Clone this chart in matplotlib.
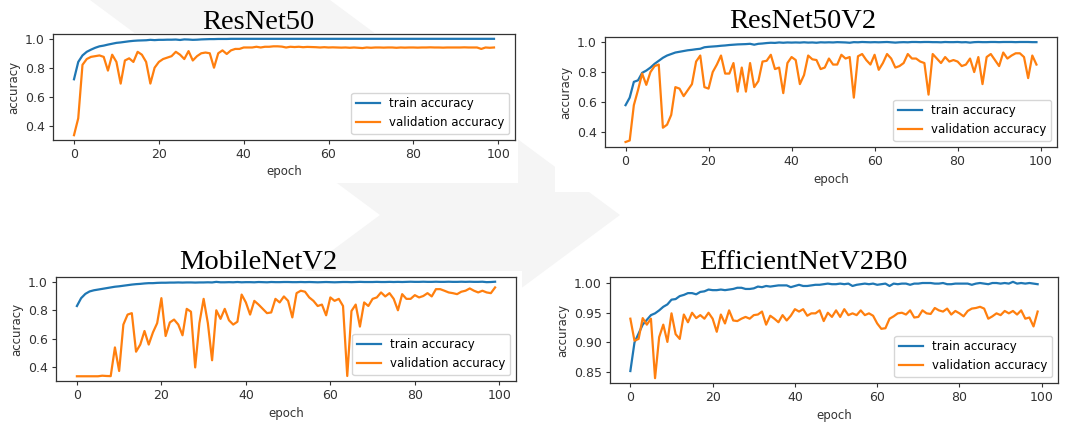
import matplotlib
matplotlib.use('Agg')
import matplotlib.pyplot as plt
from matplotlib.patches import Polygon, Rectangle

W, H = 1086, 430

epochs = list(range(100))

# ResNet50
resnet50_train = [
    0.72, 0.84, 0.885, 0.91, 0.925, 0.938, 0.948, 0.953, 0.96, 0.966,
    0.972, 0.975, 0.979, 0.983, 0.986, 0.988, 0.989, 0.99, 0.993, 0.991,
    0.993, 0.993, 0.994, 0.994, 0.995, 0.992, 0.996, 0.995, 0.993, 0.994,
    0.996, 0.997, 0.998, 0.998, 0.999, 0.999, 0.999, 1.0, 1.0, 1.0,
    1.0, 1.0, 1.0, 1.0, 1.0, 1.0, 1.0, 1.0, 1.0, 1.0,
    1.0, 1.0, 1.0, 1.0, 1.0, 1.0, 1.0, 1.0, 1.0, 1.0,
    1.0, 1.0, 1.0, 1.0, 1.0, 1.0, 1.0, 1.0, 1.0, 1.0,
    1.0, 1.0, 1.0, 1.0, 1.0, 1.0, 1.0, 1.0, 1.0, 1.0,
    1.0, 1.0, 1.0, 1.0, 1.0, 1.0, 1.0, 1.0, 1.0, 1.0,
    1.0, 1.0, 1.0, 1.0, 1.0, 1.0, 1.0, 1.0, 1.0, 1.0,
]
resnet50_val = [
    0.333, 0.45, 0.82, 0.86, 0.875, 0.88, 0.885, 0.875, 0.78, 0.89,
    0.84, 0.69, 0.85, 0.865, 0.84, 0.91, 0.89, 0.84, 0.69, 0.80,
    0.84, 0.86, 0.87, 0.88, 0.91, 0.89, 0.86, 0.915, 0.85, 0.88,
    0.90, 0.905, 0.90, 0.80, 0.90, 0.92, 0.895, 0.92, 0.93, 0.93,
    0.94, 0.94, 0.94, 0.945, 0.94, 0.945, 0.945, 0.948, 0.948, 0.946,
    0.94, 0.945, 0.943, 0.945, 0.942, 0.944, 0.943, 0.942, 0.94, 0.942,
    0.94, 0.941, 0.94, 0.939, 0.94, 0.938, 0.94, 0.938, 0.936, 0.94,
    0.938, 0.94, 0.94, 0.939, 0.94, 0.94, 0.938, 0.94, 0.939, 0.94,
    0.94, 0.939, 0.94, 0.94, 0.941, 0.94, 0.94, 0.939, 0.94, 0.94,
    0.94, 0.94, 0.941, 0.94, 0.94, 0.94, 0.93, 0.94, 0.938, 0.94,
]

# ResNet50V2
resnet50v2_train = [
    0.58, 0.63, 0.735, 0.745, 0.795, 0.81, 0.83, 0.855, 0.875, 0.895,
    0.91, 0.92, 0.93, 0.935, 0.94, 0.945, 0.948, 0.952, 0.955, 0.965,
    0.968, 0.97, 0.972, 0.975, 0.977, 0.98, 0.982, 0.984, 0.985, 0.986,
    0.988, 0.982, 0.988, 0.99, 0.993, 0.995, 0.994, 0.997, 0.995, 0.997,
    0.996, 0.997, 0.996, 0.998, 0.996, 0.997, 0.995, 0.998, 0.997, 0.998,
    0.997, 0.999, 0.998, 0.997, 0.995, 0.999, 0.998, 1.0, 0.999, 0.998,
    0.999, 0.998, 0.999, 1.0, 0.998, 0.996, 0.998, 0.999, 0.998, 1.0,
    1.0, 0.999, 1.0, 1.0, 0.999, 0.999, 0.998, 1.0, 0.999, 0.999,
    1.0, 0.998, 0.999, 0.996, 0.999, 1.0, 0.999, 0.999, 1.0, 1.0,
    0.999, 1.0, 1.0, 1.0, 0.999, 1.0, 1.0, 1.0, 0.999, 0.999,
]
resnet50v2_val = [
    0.335, 0.345, 0.58, 0.68, 0.79, 0.715, 0.80, 0.84, 0.85, 0.43,
    0.45, 0.515, 0.70, 0.69, 0.64, 0.68, 0.72, 0.87, 0.91, 0.70,
    0.69, 0.80, 0.85, 0.91, 0.79, 0.79, 0.86, 0.67, 0.83, 0.67,
    0.86, 0.70, 0.74, 0.87, 0.875, 0.915, 0.82, 0.83, 0.66, 0.86,
    0.90, 0.88, 0.72, 0.78, 0.91, 0.885, 0.88, 0.82, 0.83, 0.89,
    0.85, 0.85, 0.915, 0.89, 0.90, 0.63, 0.905, 0.92, 0.88, 0.85,
    0.915, 0.815, 0.86, 0.92, 0.89, 0.83, 0.84, 0.86, 0.92, 0.89,
    0.89, 0.87, 0.86, 0.65, 0.92, 0.89, 0.86, 0.90, 0.87, 0.88,
    0.87, 0.84, 0.85, 0.89, 0.80, 0.90, 0.72, 0.90, 0.92, 0.88,
    0.84, 0.93, 0.89, 0.91, 0.925, 0.925, 0.90, 0.76, 0.91, 0.85,
]

# MobileNetV2
mobilenetv2_train = [
    0.83, 0.885, 0.915, 0.932, 0.94, 0.945, 0.95, 0.955, 0.96, 0.965,
    0.968, 0.972, 0.976, 0.98, 0.983, 0.985, 0.988, 0.99, 0.99, 0.992,
    0.993, 0.993, 0.994, 0.994, 0.995, 0.994, 0.995, 0.995, 0.994, 0.995,
    0.995, 0.996, 0.995, 0.999, 0.996, 0.996, 0.997, 0.996, 0.998, 0.996,
    0.997, 0.997, 0.996, 0.998, 0.997, 0.996, 0.998, 0.997, 0.997, 0.998,
    0.998, 0.997, 0.997, 0.998, 0.997, 0.998, 0.997, 0.996, 0.997, 0.998,
    0.997, 0.996, 0.997, 0.998, 0.998, 0.997, 0.998, 0.999, 0.998, 0.998,
    0.998, 0.999, 0.998, 0.998, 0.999, 0.998, 0.999, 0.998, 0.999, 1.0,
    0.999, 0.999, 1.0, 0.999, 0.999, 1.0, 0.999, 0.999, 1.0, 0.999,
    0.999, 1.0, 0.999, 1.0, 0.999, 0.999, 1.0, 0.997, 0.998, 1.0,
]
mobilenetv2_val = [
    0.338, 0.338, 0.338, 0.338, 0.338, 0.338, 0.342, 0.34, 0.339, 0.54,
    0.375, 0.70, 0.77, 0.78, 0.51, 0.56, 0.655, 0.56, 0.645, 0.71,
    0.885, 0.62, 0.715, 0.735, 0.70, 0.625, 0.81, 0.79, 0.40, 0.71,
    0.88, 0.71, 0.45, 0.80, 0.74, 0.81, 0.73, 0.70, 0.72, 0.91,
    0.855, 0.77, 0.866, 0.84, 0.81, 0.78, 0.785, 0.88, 0.855, 0.897,
    0.866, 0.75, 0.92, 0.937, 0.93, 0.89, 0.866, 0.83, 0.84, 0.765,
    0.89, 0.866, 0.88, 0.83, 0.34, 0.795, 0.84, 0.686, 0.855, 0.83,
    0.88, 0.89, 0.925, 0.897, 0.92, 0.88, 0.80, 0.913, 0.88, 0.88,
    0.906, 0.89, 0.90, 0.92, 0.897, 0.948, 0.948, 0.937, 0.925, 0.92,
    0.913, 0.93, 0.937, 0.953, 0.937, 0.925, 0.937, 0.925, 0.92, 0.96,
]

# EfficientNetV2B0
efficientnet_train = [
    0.852, 0.90, 0.915, 0.93, 0.938, 0.946, 0.949, 0.954, 0.96, 0.964,
    0.972, 0.973, 0.978, 0.98, 0.983, 0.983, 0.981, 0.985, 0.986, 0.989,
    0.988, 0.988, 0.989, 0.988, 0.989, 0.99, 0.992, 0.992, 0.99, 0.99,
    0.991, 0.994, 0.993, 0.995, 0.994, 0.995, 0.996, 0.996, 0.996, 0.993,
    0.995, 0.997, 0.995, 0.995, 0.996, 0.997, 0.997, 0.998, 0.999, 0.998,
    0.998, 0.999, 0.998, 0.999, 0.995, 0.997, 0.998, 0.999, 0.998, 0.999,
    0.997, 0.998, 0.999, 0.995, 0.999, 0.998, 0.999, 0.999, 0.997, 0.999,
    0.999, 1.0, 1.0, 1.0, 0.999, 0.999, 1.0, 0.998, 0.998, 0.999,
    0.999, 0.999, 0.999, 0.997, 0.999, 1.0, 0.999, 0.998, 1.0, 1.0,
    0.999, 1.0, 0.999, 1.002, 0.999, 1.0, 0.999, 1.0, 0.999, 0.998,
]
efficientnet_val = [
    0.94, 0.903, 0.906, 0.941, 0.93, 0.94, 0.84, 0.909, 0.93, 0.901,
    0.949, 0.914, 0.906, 0.947, 0.934, 0.95, 0.941, 0.946, 0.94, 0.95,
    0.94, 0.918, 0.947, 0.932, 0.954, 0.937, 0.936, 0.94, 0.943, 0.94,
    0.946, 0.947, 0.952, 0.93, 0.945, 0.94, 0.934, 0.946, 0.937, 0.945,
    0.956, 0.952, 0.956, 0.945, 0.949, 0.949, 0.954, 0.936, 0.95, 0.943,
    0.954, 0.943, 0.956, 0.946, 0.949, 0.946, 0.954, 0.946, 0.949, 0.945,
    0.932, 0.923, 0.924, 0.94, 0.944, 0.949, 0.95, 0.947, 0.954, 0.942,
    0.943, 0.954, 0.949, 0.948, 0.958, 0.954, 0.952, 0.957, 0.947, 0.953,
    0.949, 0.944, 0.953, 0.957, 0.958, 0.96, 0.957, 0.94, 0.944, 0.949,
    0.946, 0.953, 0.949, 0.953, 0.947, 0.954, 0.94, 0.942, 0.927, 0.952,
]

titles = ['ResNet50', 'ResNet50V2', 'MobileNetV2', 'EfficientNetV2B0']
train_series = [resnet50_train, resnet50v2_train, mobilenetv2_train, efficientnet_train]
val_series = [resnet50_val, resnet50v2_val, mobilenetv2_val, efficientnet_val]
y_ticks = [[0.4, 0.6, 0.8, 1.0], [0.4, 0.6, 0.8, 1.0], [0.4, 0.6, 0.8, 1.0],
           [0.85, 0.90, 0.95, 1.00]]
y_fmt = ['{:.1f}', '{:.1f}', '{:.1f}', '{:.2f}']
x_ticks = [0, 20, 40, 60, 80, 100]

# pixel layout (left, top, right, bottom), y measured from the top
axes_px = [(53, 34, 515, 140), (605, 37, 1057, 147), (56, 277, 516, 381), (610, 277, 1058, 383)]
title_px = [(258, 29), (803, 28), (258, 269), (803, 269)]
white_px = [(0, 33, 518, 183), (555, 33, 1086, 192), (0, 271, 522, 430), (547, 273, 1086, 430)]


def fx(x):
    return x / W


def fy(y):
    return 1 - y / H


fig = plt.figure(figsize=(W / 100, H / 100), dpi=100)

# faint page watermark behind the pasted screenshots
chevron = [(90, 0), (330, 0), (620, 215), (330, 430), (90, 430), (380, 215)]
fig.add_artist(Polygon([(fx(x), fy(y)) for x, y in chevron], closed=True,
                       transform=fig.transFigure, facecolor='#f5f5f5',
                       edgecolor='none', zorder=-3))
for l, t, r, b in white_px:
    fig.add_artist(Rectangle((fx(l), fy(b)), fx(r) - fx(l), fy(t) - fy(b),
                             transform=fig.transFigure, facecolor='white',
                             edgecolor='none', zorder=-2))

for i in range(4):
    l, t, r, b = axes_px[i]
    ax = fig.add_axes([fx(l), fy(b), fx(r) - fx(l), fy(t) - fy(b)])
    ax.set_zorder(2)
    ax.plot(epochs, train_series[i], color='#1f77b4', lw=1.6, label='train accuracy')
    ax.plot(epochs, val_series[i], color='#ff7f0e', lw=1.6, label='validation accuracy')
    ax.set_xticks(x_ticks)
    ax.set_yticks(y_ticks[i])
    ax.set_yticklabels([y_fmt[i].format(v) for v in y_ticks[i]])
    ax.tick_params(labelsize=9, length=3, width=0.8, pad=3, colors='#333333')
    for s in ax.spines.values():
        s.set_linewidth(0.9)
        s.set_color('#333333')
    ax.set_xlabel('epoch', fontsize=8.5, labelpad=3, color='#333333')
    ax.set_ylabel('accuracy', fontsize=8.5, labelpad=3, color='#333333')
    ax.legend(loc='lower right', fontsize=8.5)
    tx, ty = title_px[i]
    fig.text(fx(tx), fy(ty), titles[i], ha='center', va='baseline',
             family='Liberation Serif', fontsize=20.5)

fig.savefig('out.png', dpi=100, facecolor='white')
